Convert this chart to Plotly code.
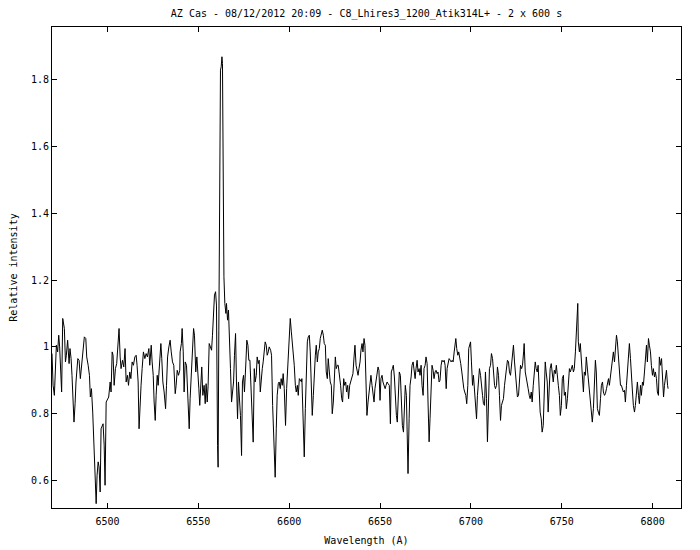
import plotly.graph_objects as go

# Wavelength (Angstrom) and relative intensity
wl_a = [6469.5, 6470.1, 6470.8, 6471.4, 6471.9, 6472.6, 6473.2, 6473.7, 6474.3, 6474.8,
        6475.4, 6476.3, 6476.9, 6477.4, 6478.1, 6478.9, 6479.4, 6480.0, 6480.5, 6481.1,
        6481.6, 6482.2, 6482.7, 6483.7, 6484.4, 6485.1, 6485.7, 6486.6, 6487.3, 6488.1,
        6488.6, 6489.4, 6490.1, 6490.6, 6491.2, 6491.9, 6492.7, 6493.4, 6493.8, 6494.3,
        6494.9, 6495.4, 6496.0, 6496.5, 6497.1, 6497.6, 6498.2, 6498.7, 6499.3, 6500.0,
        6500.7, 6501.5, 6502.0, 6502.6, 6503.1, 6503.7, 6504.4, 6505.1, 6505.9, 6506.4,
        6507.0, 6507.5, 6508.3, 6509.0, 6509.7, 6510.3, 6511.0, 6511.6, 6512.3, 6512.9,
        6513.6, 6514.3, 6515.1, 6515.8, 6516.3, 6516.9, 6517.4, 6518.0, 6518.5, 6519.1,
        6519.8, 6520.6, 6521.3, 6522.0, 6522.8, 6523.3, 6524.1, 6524.6, 6525.2, 6525.7,
        6526.3, 6526.8, 6527.4, 6527.9, 6528.6, 6529.4, 6529.9, 6530.5, 6531.2, 6532.0,
        6532.5, 6533.1, 6533.8, 6534.5, 6535.1, 6535.8, 6536.5, 6537.3, 6537.8, 6538.4,
        6539.1, 6539.8]
int_a = [0.980, 0.885, 0.855, 0.925, 1.005, 0.985, 1.035, 1.000, 0.895, 0.865,
         1.085, 1.055, 0.955, 0.975, 1.020, 0.950, 0.995, 0.965, 0.915, 0.830,
         0.775, 0.830, 0.895, 0.965, 0.960, 0.905, 0.945, 1.000, 1.030, 1.025,
         0.970, 0.945, 0.915, 0.850, 0.875, 0.805, 0.671, 0.601, 0.531, 0.616,
         0.656, 0.641, 0.566, 0.755, 0.765, 0.770, 0.706, 0.586, 0.835, 0.845,
         0.850, 0.895, 0.865, 0.985, 0.975, 0.885, 0.935, 0.950, 1.035, 1.055,
         0.970, 0.935, 0.960, 0.940, 0.995, 0.895, 0.915, 0.885, 0.925, 0.905,
         0.955, 0.945, 0.970, 0.975, 0.945, 0.895, 0.755, 0.855, 0.885, 0.935,
         0.985, 0.965, 0.980, 0.970, 0.995, 0.945, 1.005, 0.955, 0.915, 0.835,
         0.780, 0.855, 0.915, 0.885, 0.935, 1.010, 0.965, 0.895, 0.865, 0.815,
         0.885, 0.970, 1.000, 1.020, 0.985, 0.955, 0.945, 0.860, 0.885, 0.930,
         0.915, 0.930]

wl_b = [6540.0, 6540.7, 6541.1, 6541.7, 6542.2, 6542.8, 6543.5, 6544.0, 6544.6, 6545.0,
        6545.5, 6546.3, 6546.8, 6547.4, 6547.9, 6548.6, 6549.2, 6549.7, 6550.3, 6550.8,
        6551.4, 6551.9, 6552.5, 6553.2, 6553.8, 6554.3, 6554.9, 6555.4, 6556.0, 6556.7,
        6557.3, 6557.8, 6558.4, 6558.9, 6559.5, 6560.0, 6560.6, 6560.9, 6561.3, 6561.9,
        6562.2, 6562.6, 6563.0, 6563.3, 6563.7, 6564.1, 6564.6, 6565.2, 6565.5, 6566.1,
        6566.6, 6567.2, 6567.7, 6568.3, 6568.8, 6569.4, 6569.9, 6570.5, 6571.0, 6571.6,
        6572.1, 6572.7, 6573.2, 6573.8, 6574.3, 6574.9, 6575.4, 6576.2, 6576.7, 6577.3,
        6577.8, 6578.4, 6579.1, 6579.7, 6580.2, 6580.8, 6581.3, 6581.9, 6582.4, 6583.0,
        6583.5, 6584.1, 6584.6, 6585.2, 6585.7, 6586.5, 6586.8, 6587.4, 6587.9, 6588.5,
        6589.0, 6589.8, 6590.3, 6590.9, 6591.4, 6592.0, 6592.3, 6592.9, 6593.4, 6594.0,
        6594.5, 6595.1, 6595.6, 6596.2, 6596.7, 6597.3, 6598.0, 6598.6, 6599.3, 6599.9,
        6600.6, 6601.2, 6601.7, 6602.3, 6602.8, 6603.4, 6603.9, 6604.5, 6605.0, 6605.6,
        6606.3, 6606.8]
int_b = [0.985, 1.010, 1.055, 0.985, 0.865, 0.955, 0.945, 0.885, 0.785, 0.755,
         0.845, 0.955, 1.015, 1.055, 1.035, 0.925, 0.970, 0.905, 0.875, 0.825,
         0.925, 0.940, 0.855, 0.885, 0.830, 0.890, 0.835, 0.885, 1.010, 1.000,
         0.990, 1.035, 1.100, 1.155, 1.165, 1.125, 0.705, 0.640, 1.050, 1.589,
         1.828, 1.838, 1.868, 1.848, 1.434, 1.210, 1.130, 1.100, 1.130, 1.080,
         1.110, 1.040, 0.935, 0.835, 0.865, 0.895, 0.975, 1.040, 0.895, 0.785,
         0.895, 0.835, 0.795, 0.675, 0.895, 0.915, 0.865, 0.955, 1.020, 1.005,
         0.960, 0.960, 0.855, 0.795, 0.715, 0.935, 0.895, 0.915, 0.970, 0.950,
         0.960, 0.865, 0.905, 0.935, 0.955, 0.995, 1.015, 1.005, 0.975, 0.985,
         1.000, 0.990, 0.975, 0.825, 0.755, 0.685, 0.610, 0.755, 0.855, 0.890,
         0.895, 0.875, 0.905, 0.885, 0.920, 0.875, 0.765, 0.875, 0.955, 1.005,
         1.085, 1.045, 1.020, 0.970, 0.945, 0.885, 0.865, 0.885, 0.855, 0.905,
         0.900, 0.895]

wl_c = [6607.0, 6607.8, 6608.3, 6608.9, 6609.4, 6610.0, 6610.5, 6611.1, 6611.6, 6612.2,
        6612.7, 6613.3, 6613.8, 6614.4, 6614.9, 6615.5, 6616.0, 6616.6, 6617.1, 6617.7,
        6618.2, 6618.8, 6619.3, 6619.9, 6620.4, 6621.0, 6621.5, 6622.1, 6622.6, 6623.2,
        6623.7, 6624.3, 6624.8, 6625.4, 6625.9, 6626.5, 6627.0, 6627.8, 6628.3, 6628.9,
        6629.4, 6630.0, 6630.5, 6631.1, 6631.6, 6632.2, 6632.7, 6633.3, 6633.8, 6634.6,
        6635.1, 6635.7, 6636.2, 6636.8, 6637.3, 6637.9, 6638.4, 6639.0, 6639.5, 6640.1,
        6640.6, 6641.2, 6641.7, 6642.3, 6642.8, 6643.4, 6643.9, 6644.5, 6645.0, 6645.6,
        6646.1, 6646.7, 6647.2, 6647.8, 6648.3, 6648.9, 6649.4, 6650.0, 6650.5, 6651.1,
        6651.6, 6652.2, 6652.8, 6653.3, 6653.9, 6654.4, 6655.1, 6655.7, 6656.2, 6656.8,
        6657.3, 6657.9, 6658.4, 6659.0, 6659.5, 6660.1, 6660.6, 6661.2, 6661.7, 6662.3,
        6662.9, 6663.4, 6663.9, 6664.5, 6665.0, 6665.4, 6666.0, 6666.5, 6667.1, 6667.6,
        6668.2, 6668.7, 6669.3, 6669.8, 6670.4, 6670.9, 6671.5, 6672.0, 6672.6, 6673.1,
        6673.7, 6674.2, 6674.8, 6675.3, 6675.9]
int_c = [0.905, 0.785, 0.671, 0.815, 0.955, 1.015, 1.030, 1.035, 0.985, 0.865,
         0.795, 0.855, 0.935, 0.975, 1.005, 0.955, 0.985, 0.995, 1.025, 1.035,
         1.050, 1.035, 1.010, 1.005, 0.925, 0.905, 0.965, 0.925, 0.895, 0.885,
         0.800, 0.835, 0.915, 0.970, 0.935, 0.945, 0.945, 0.915, 0.885, 0.845,
         0.835, 0.905, 0.885, 0.895, 0.865, 0.885, 0.845, 0.885, 0.895, 0.905,
         0.920, 0.970, 1.005, 0.945, 0.935, 0.915, 0.935, 0.955, 0.990, 1.010,
         0.985, 1.025, 1.005, 0.865, 0.795, 0.835, 0.855, 0.895, 0.915, 0.885,
         0.855, 0.835, 0.875, 0.895, 0.925, 0.940, 0.930, 0.840, 0.905, 0.915,
         0.895, 0.885, 0.875, 0.885, 0.895, 0.890, 0.885, 0.770, 0.925, 0.935,
         0.945, 0.910, 0.845, 0.795, 0.775, 0.845, 0.925, 0.915, 0.835, 0.765,
         0.745, 0.835, 0.885, 0.855, 0.726, 0.621, 0.785, 0.885, 0.910, 0.945,
         0.955, 0.925, 0.905, 0.935, 0.960, 0.925, 0.935, 0.915, 0.945, 0.885,
         0.855, 0.935, 0.945, 0.970, 0.950]

wl_d = [6676.4, 6677.0, 6677.5, 6678.1, 6678.6, 6679.2, 6679.7, 6680.3, 6680.8, 6681.4,
        6681.9, 6682.5, 6683.0, 6683.6, 6684.1, 6684.7, 6685.3, 6685.8, 6686.4, 6686.9,
        6687.5, 6688.0, 6688.6, 6689.1, 6689.7, 6690.2, 6690.8, 6691.3, 6691.7, 6692.2,
        6692.8, 6693.3, 6693.9, 6694.4, 6695.0, 6695.5, 6696.1, 6696.6, 6697.2, 6697.7,
        6698.3, 6698.8, 6699.4, 6699.8, 6700.3, 6700.9, 6701.4, 6702.0, 6702.5, 6703.1,
        6703.6, 6704.2, 6704.7, 6705.3, 6705.8, 6706.4, 6706.9, 6707.5, 6708.0, 6708.6,
        6709.1, 6709.7, 6710.2, 6710.8, 6711.3, 6711.9, 6712.4, 6713.0, 6713.5, 6714.1,
        6714.6, 6715.2, 6715.7, 6716.3, 6716.8, 6717.4, 6717.9, 6718.5, 6719.0, 6719.6,
        6720.1, 6720.7, 6721.2, 6721.8, 6722.3, 6722.9, 6723.4, 6724.0, 6724.5, 6725.1,
        6725.6, 6726.2, 6726.8, 6727.3, 6727.9, 6728.4, 6729.0, 6729.3, 6729.9, 6730.4,
        6731.0, 6731.5, 6732.1, 6732.6, 6733.2, 6733.7, 6734.3, 6734.8, 6735.4, 6735.9,
        6736.5, 6737.0, 6737.6, 6738.1, 6738.7, 6739.2, 6739.8, 6740.3, 6740.9, 6741.4,
        6742.0, 6742.5, 6743.1, 6743.6, 6744.2, 6744.7, 6745.3]
int_d = [0.835, 0.716, 0.785, 0.865, 0.945, 0.930, 0.905, 0.925, 0.930, 0.920,
         0.925, 0.895, 0.900, 0.945, 0.960, 0.955, 0.960, 0.945, 0.875, 0.935,
         0.955, 0.965, 0.960, 0.955, 0.960, 0.955, 0.985, 1.010, 1.025, 0.995,
         0.975, 0.985, 0.970, 0.950, 0.925, 0.895, 0.875, 0.865, 0.855, 0.830,
         0.885, 0.995, 1.010, 1.015, 0.955, 0.885, 0.915, 0.855, 0.835, 0.785,
         0.855, 0.905, 0.935, 0.915, 0.875, 0.855, 0.830, 0.825, 0.925, 0.845,
         0.716, 0.855, 0.935, 0.945, 0.980, 0.965, 0.925, 0.885, 0.875, 0.885,
         0.940, 0.915, 0.855, 0.780, 0.825, 0.835, 0.845, 0.885, 0.905, 0.945,
         0.960, 0.955, 0.925, 0.915, 0.945, 0.990, 1.005, 0.955, 0.925, 0.885,
         0.850, 0.855, 0.925, 0.945, 0.935, 0.945, 0.985, 1.010, 0.925, 0.905,
         0.895, 0.875, 0.855, 0.845, 0.865, 0.835, 0.885, 0.915, 0.955, 0.935,
         0.925, 0.945, 0.835, 0.805, 0.785, 0.745, 0.765, 0.885, 0.955, 0.925,
         0.895, 0.805, 0.885, 0.935, 0.950, 0.925, 0.895]

wl_e = [6745.9, 6746.5, 6747.0, 6747.6, 6748.1, 6748.7, 6749.2, 6749.8, 6750.3, 6750.9,
        6751.4, 6752.0, 6752.5, 6753.1, 6753.6, 6754.2, 6754.7, 6755.3, 6755.8, 6756.4,
        6756.9, 6757.5, 6758.0, 6758.4, 6758.8, 6759.1, 6759.7, 6760.2, 6760.8, 6761.3,
        6761.9, 6762.4, 6763.0, 6763.5, 6764.1, 6764.6, 6765.2, 6765.7, 6766.3, 6766.8,
        6767.4, 6767.9, 6768.5, 6769.0, 6769.6, 6770.1, 6770.7, 6771.3, 6771.8, 6772.4,
        6772.9, 6773.5, 6774.0, 6774.6, 6775.1, 6775.7, 6776.2, 6776.8, 6777.3, 6777.9,
        6778.4, 6779.0, 6779.5, 6780.1, 6780.6, 6781.2, 6781.7, 6782.3, 6782.8, 6783.4,
        6783.9, 6784.5, 6785.0, 6785.6, 6786.1, 6786.7, 6787.2, 6787.8, 6788.3, 6788.9,
        6789.4, 6790.0, 6790.5, 6791.1, 6791.6, 6792.2, 6792.7, 6793.3, 6793.8, 6794.4,
        6794.9, 6795.5, 6796.0, 6796.6, 6797.1, 6797.7, 6798.2, 6798.8, 6799.3, 6799.9,
        6800.4, 6801.0, 6801.5, 6802.1, 6802.6, 6803.2, 6803.7, 6804.3, 6804.9, 6805.4,
        6806.0, 6806.5, 6807.1, 6807.6, 6808.2, 6808.5]
int_e = [0.930, 0.920, 0.945, 0.895, 0.885, 0.855, 0.795, 0.825, 0.905, 0.915,
         0.855, 0.865, 0.815, 0.845, 0.885, 0.935, 0.925, 0.940, 0.945, 0.925,
         0.935, 0.985, 1.040, 1.125, 1.130, 1.015, 0.985, 1.010, 0.955, 0.895,
         0.865, 0.925, 0.915, 0.970, 0.935, 0.915, 0.885, 0.845, 0.805, 0.775,
         0.815, 0.885, 0.960, 0.925, 0.815, 0.805, 0.795, 0.845, 0.885, 0.895,
         0.865, 0.855, 0.860, 0.875, 0.895, 0.905, 0.885, 0.915, 0.945, 0.975,
         0.985, 0.955, 1.005, 1.035, 1.015, 0.955, 0.905, 0.885, 0.885, 0.875,
         0.865, 0.870, 0.835, 0.885, 0.935, 0.985, 1.010, 0.965, 0.905, 0.865,
         0.825, 0.805, 0.825, 0.865, 0.895, 0.855, 0.830, 0.885, 0.855, 0.895,
         0.885, 0.925, 0.980, 1.005, 0.955, 1.025, 1.005, 0.985, 0.945, 0.915,
         0.935, 0.910, 0.925, 0.905, 0.865, 0.855, 0.970, 0.945, 0.965, 0.895,
         0.850, 0.885, 0.915, 0.930, 0.885, 0.875]

wavelength = wl_a + wl_b + wl_c + wl_d + wl_e
intensity = int_a + int_b + int_c + int_d + int_e

x_ticks = [6500, 6550, 6600, 6650, 6700, 6750, 6800]
y_ticks = [0.6, 0.8, 1.0, 1.2, 1.4, 1.6, 1.8]
y_tick_text = ["0.6", "0.8", "1", "1.2", "1.4", "1.6", "1.8"]

title_text = "AZ Cas - 08/12/2012 20:09 - C8_Lhires3_1200_Atik314L+ - 2 x 600 s"

FONT = "DejaVu Sans Mono"

fig = go.Figure()
fig.add_trace(go.Scatter(x=wavelength, y=intensity, mode="lines",
                         line=dict(color="black", width=1), showlegend=False,
                         hoverinfo="x+y"))

axis_common = dict(showline=True, linecolor="black", linewidth=1, mirror="allticks",
                   ticks="inside", ticklen=5, tickcolor="black", tickwidth=1,
                   showgrid=False, zeroline=False, automargin=False,
                   tickfont=dict(family=FONT, size=10, color="black"))

# the page places the figure 8 px from the top-left corner of the window
fig.update_layout(
    width=692, height=542,
    paper_bgcolor="white", plot_bgcolor="white",
    margin=dict(l=44, r=19, t=19, b=42, pad=0),
    title=dict(text=title_text, x=0.5, xref="paper", xanchor="center",
               y=1 - 5 / 542, yref="container", yanchor="middle",
               font=dict(family=FONT, size=10, color="black")),
    xaxis=dict(range=[6469.5, 6815.6], tickvals=x_ticks, ticklabelstandoff=4,
               title=dict(text="Wavelength (A)", standoff=10,
                          font=dict(family=FONT, size=10, color="black")),
               **axis_common),
    yaxis=dict(range=[0.518, 1.957], tickvals=y_ticks, ticktext=y_tick_text,
               title=dict(text="Relative intensity", standoff=20,
                          font=dict(family=FONT, size=10, color="black")),
               **axis_common),
)

fig.write_html("out.html")
